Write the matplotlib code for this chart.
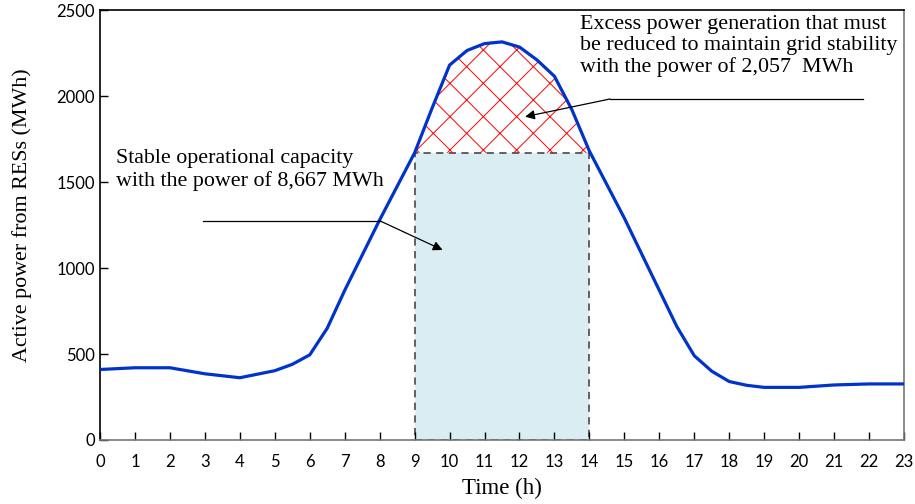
import matplotlib
matplotlib.use("Agg")
import matplotlib.pyplot as plt
from matplotlib.patches import Rectangle
import numpy as np

# hourly (and half-hourly near the bends) power
hours = [0, 1, 2, 3, 4, 5, 5.5, 6, 6.5, 7, 7.5, 8, 8.5, 9, 9.5, 10, 10.5, 11,
         11.5, 12, 12.5, 13, 13.5, 14, 15, 16, 16.5, 17, 17.5, 18, 18.5, 19,
         20, 21, 22, 23]
power = [410, 420, 420, 385, 362, 403, 440, 495, 650, 870, 1075, 1280, 1475,
         1670, 1930, 2180, 2265, 2305, 2315, 2285, 2210, 2115, 1920, 1680,
         1290, 870, 660, 490, 400, 340, 318, 306, 306, 320, 326, 326]

stable_start, stable_end = 9, 14
stable_level = 1670
xticks = list(range(0, 24))
yticks = [0, 500, 1000, 1500, 2000, 2500]

serif = "Liberation Serif"
sans = "Lato"

fig = plt.figure(figsize=(9.15, 5.04), dpi=100)
ax = fig.add_axes([0.1093, 0.127, 0.8787, 0.853])

x = np.array(hours)
y = np.array(power)

# stable capacity box
ax.add_patch(Rectangle((stable_start, 0), stable_end - stable_start, stable_level,
                       facecolor="#DAEDF3", edgecolor="#555555", linewidth=1.3,
                       linestyle=(0, (4, 3)), zorder=1))

# excess generation, red crosshatch
plt.rcParams["hatch.linewidth"] = 0.7
mask = (x >= stable_start) & (x <= stable_end)
ax.fill_between(x[mask], stable_level, y[mask], facecolor="none",
                edgecolor="red", hatch="x", linewidth=0, zorder=2)

ax.plot(x, y, color="#0033CC", linewidth=2.3, zorder=3)

ax.set_xlim(0, 23)
ax.set_ylim(0, 2500)
ax.set_xticks(xticks)
ax.set_yticks(yticks)
ax.tick_params(axis="both", direction="in", length=6, width=1, labelsize=12)
ax.tick_params(axis="x", pad=10)
for lab in ax.get_xticklabels() + ax.get_yticklabels():
    lab.set_fontfamily(sans)

for side in ["left", "top"]:
    ax.spines[side].set_color("black")
for side in ["bottom", "right"]:
    ax.spines[side].set_color("#777777")
for s in ax.spines.values():
    s.set_linewidth(1.2)

ax.set_xlabel("Time (h)", fontfamily=serif, fontsize=16.5, labelpad=6)
ax.set_ylabel("Active power from RESs (MWh)", fontfamily=serif, fontsize=15.8)
ax.yaxis.set_label_coords(-0.084, 0.524)

# stable capacity annotation
ax.text(0.46, 1690, "Stable operational capacity\nwith the power of 8,667 MWh",
        fontfamily=serif, fontsize=15.8, va="top", ha="left", linespacing=1.15)
ax.plot([2.95, 8.0], [1275, 1275], color="black", linewidth=0.9, zorder=4)
ax.annotate("", xy=(9.8, 1105), xytext=(8.0, 1275),
            arrowprops=dict(arrowstyle="-|>", color="black", lw=0.9,
                            mutation_scale=14, shrinkA=0, shrinkB=0), zorder=4)

# excess annotation
ax.text(13.73, 2470, "Excess power generation that must\nbe reduced to maintain grid stability\nwith the power of 2,057  MWh",
        fontfamily=serif, fontsize=15.8, va="top", ha="left", linespacing=1.15)
ax.plot([14.59, 21.82], [1983, 1983], color="black", linewidth=0.9, zorder=4)
ax.annotate("", xy=(12.16, 1880), xytext=(14.59, 1983),
            arrowprops=dict(arrowstyle="-|>", color="black", lw=0.9,
                            mutation_scale=14, shrinkA=0, shrinkB=0), zorder=4)

fig.savefig("out.png", dpi=100)
